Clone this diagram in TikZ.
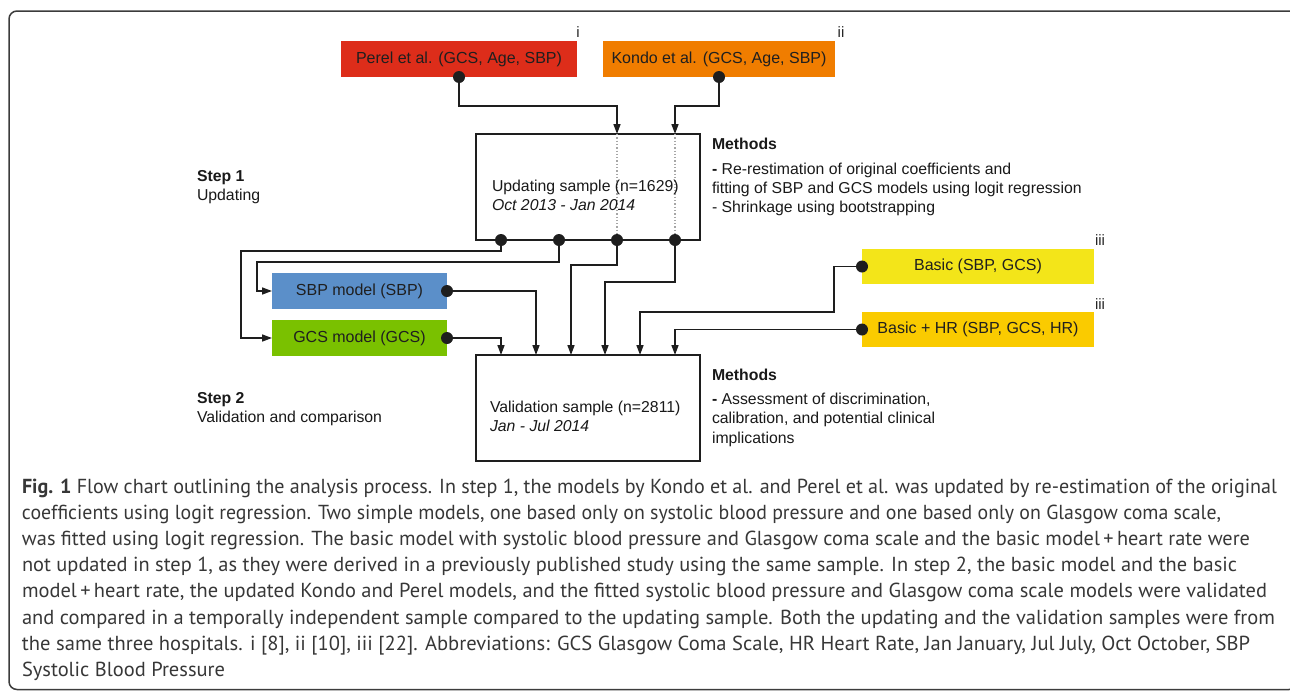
\documentclass[tikz,border=0pt]{standalone}
\usepackage{fontspec}
\usepackage{graphicx}
\setmainfont{Liberation Sans}
\newfontfamily\capfont{PT Sans}
\usetikzlibrary{arrows.meta}
\definecolor{perelred}{RGB}{221,45,26}
\definecolor{kondoorange}{RGB}{240,125,0}
\definecolor{sbpblue}{RGB}{91,143,201}
\definecolor{gcsgreen}{RGB}{122,193,0}
\definecolor{basicyellow}{RGB}{243,229,25}
\definecolor{hrgold}{RGB}{250,203,0}
\definecolor{linec}{RGB}{30,30,30}
\definecolor{captext}{RGB}{55,55,55}
\definecolor{framec}{RGB}{60,60,60}
\newcommand{\capln}[2]{\resizebox{#1}{\height}{#2}}
\begin{document}
\begin{tikzpicture}[x=1pt,y=-1pt,
  every node/.style={inner sep=0pt, outer sep=0pt},
  fbox/.style={minimum width=#1, text=black!88, font=\fontsize{16}{19}\selectfont},
  wbox/.style={draw=linec, line width=1.5pt, fill=white, minimum width=224pt, minimum height=106pt},
  lbl/.style={anchor=base west, text=black!90, font=\fontsize{15.8}{19}\selectfont},
  refl/.style={text=black!85, font=\fontsize{15}{18}\selectfont},
  captl/.style={anchor=base west, text=captext, font=\capfont\fontsize{20.3}{24}\selectfont},
  conn/.style={draw=linec, line width=1.6pt, -{Triangle[length=10pt,width=7pt]}},
  dotline/.style={draw=gray!70, line width=1.3pt, dotted}]
\useasboundingbox (0,0) rectangle (1290,691);
% frame
\draw[framec, line width=1.5pt, rounded corners=8pt] (9,11) rectangle (1297,689.5);

% boxes
\node[fbox=236pt, minimum height=36pt, fill=perelred] (perel) at (459,59) {Perel et al. (GCS, Age, SBP)};
\node[fbox=232pt, minimum height=36pt, fill=kondoorange] (kondo) at (719,59) {Kondo et al. (GCS, Age, SBP)};
\node[refl] (refi) at (578,32) {i};
\node[refl] (refii) at (841,32) {ii};

\node[wbox] (upd) at (588,187) {};
\node[wbox] (val) at (588,408) {};

\node[fbox=175pt, minimum height=36pt, fill=sbpblue] (sbp) at (359.5,291) {SBP model (SBP)};
\node[fbox=175pt, minimum height=36pt, fill=gcsgreen] (gcs) at (359.5,338) {GCS model (GCS)};
\node[fbox=232pt, minimum height=35pt, fill=basicyellow] (basic) at (978,266.5) {Basic (SBP, GCS)};
\node[fbox=232pt, minimum height=35pt, fill=hrgold] (hr) at (978,329.5) {Basic + HR (SBP, GCS, HR)};
\node[refl] (refiii1) at (1100,240) {iii};
\node[refl] (refiii2) at (1100,304) {iii};

% dotted lines through updating box
\draw[dotline] ([xshift=29pt]upd.north) -- ([xshift=29pt]upd.south);
\draw[dotline] ([xshift=87pt]upd.north) -- ([xshift=87pt]upd.south);

% connectors
\draw[conn] (perel.south) -- ++(0,29) -| ([xshift=29pt]upd.north);
\draw[conn] (kondo.south) -- ++(0,29) -| ([xshift=87pt]upd.north);

\draw[conn] ([xshift=-87pt]upd.south) -- ++(0,11) -| ([xshift=-31pt]gcs.west) -- (gcs.west);
\draw[conn] ([xshift=-29pt]upd.south) -- ++(0,22) -| ([xshift=-15pt]sbp.west) -- (sbp.west);
\draw[conn] ([xshift=29pt]upd.south) -- ++(0,25) -| ([xshift=-17pt]val.north);
\draw[conn] ([xshift=87pt]upd.south) -- ++(0,42) -| ([xshift=17pt]val.north);

\draw[conn] (sbp.east) -| ([xshift=-52pt]val.north);
\draw[conn] (gcs.east) -| ([xshift=-87pt]val.north);
\draw[conn] (basic.west) -- ++(-28,0) -- ++(0,45.5) -| ([xshift=52pt]val.north);
\draw[conn] (hr.west) -| ([xshift=87pt]val.north);

% dots
\fill[linec] (perel.south) circle (6pt);
\fill[linec] (kondo.south) circle (6pt);
\fill[linec] ([xshift=-87pt]upd.south) circle (6pt);
\fill[linec] ([xshift=-29pt]upd.south) circle (6pt);
\fill[linec] ([xshift=29pt]upd.south) circle (6pt);
\fill[linec] ([xshift=87pt]upd.south) circle (6pt);
\fill[linec] (sbp.east) circle (6pt);
\fill[linec] (gcs.east) circle (6pt);
\fill[linec] (basic.west) circle (6pt);
\fill[linec] (hr.west) circle (6pt);

% texts in white boxes
\node[lbl] (updt1) at (492,191) {Updating sample (n=1629)};
\node[lbl] (updt2) at (492,210) {\itshape Oct 2013 - Jan 2014};
\node[lbl] (valt1) at (490,412) {Validation sample (n=2811)};
\node[lbl] (valt2) at (490,431) {\itshape Jan - Jul 2014};

% step labels
\node[lbl] (st1a) at (197,181) {\bfseries Step 1};
\node[lbl] (st1b) at (197,200) {Updating};
\node[lbl] (st2a) at (197,403) {\bfseries Step 2};
\node[lbl] (st2b) at (197,422) {Validation and comparison};

% methods
\node[lbl] (m1a) at (712,149) {\bfseries Methods};
\node[lbl] (m1b) at (712,174) {\textbf{-} Re-restimation of original coefficients and};
\node[lbl] (m1c) at (712,193) {fitting of SBP and GCS models using logit regression};
\node[lbl] (m1d) at (712,212) {- Shrinkage using bootstrapping};
\node[lbl] (m2a) at (712,380) {\bfseries Methods};
\node[lbl] (m2b) at (712,404) {\textbf{-} Assessment of discrimination,};
\node[lbl] (m2c) at (712,423) {calibration, and potential clinical};
\node[lbl] (m2d) at (712,443) {implications};

% caption
\node[captl] (c1) at (22,493) {\capln{1255pt}{\textbf{Fig. 1} Flow chart outlining the analysis process. In step 1, the models by Kondo et al. and Perel et al. was updated by re-estimation of the original}};
\node[captl] (c2) at (22,519.2) {\capln{1199pt}{coefficients using logit regression. Two simple models, one based only on systolic blood pressure and one based only on Glasgow coma scale,}};
\node[captl] (c3) at (22,545.4) {\capln{1228pt}{was fitted using logit regression. The basic model with systolic blood pressure and Glasgow coma scale and the basic model\,+\,heart rate were}};
\node[captl] (c4) at (22,571.6) {\capln{1215pt}{not updated in step 1, as they were derived in a previously published study using the same sample. In step 2, the basic model and the basic}};
\node[captl] (c5) at (22,597.8) {\capln{1245pt}{model\,+\,heart rate, the updated Kondo and Perel models, and the fitted systolic blood pressure and Glasgow coma scale models were validated}};
\node[captl] (c6) at (22,624) {\capln{1253pt}{and compared in a temporally independent sample compared to the updating sample. Both the updating and the validation samples were from}};
\node[captl] (c7) at (22,650.2) {\capln{1228pt}{the same three hospitals. i [8], ii [10], iii [22]. Abbreviations: GCS Glasgow Coma Scale, HR Heart Rate, Jan January, Jul July, Oct October, SBP}};
\node[captl] (c8) at (22,676.4) {\capln{203pt}{Systolic Blood Pressure}};
\end{tikzpicture}
\end{document}
